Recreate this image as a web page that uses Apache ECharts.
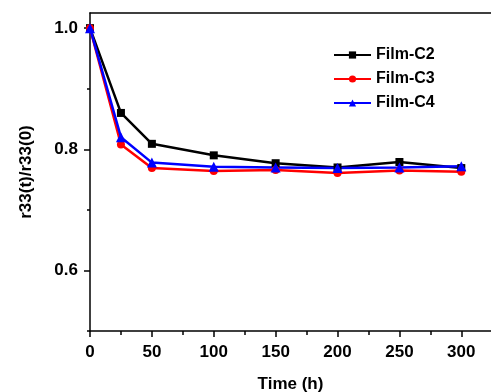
<!DOCTYPE html>
<html>
<head>
<meta charset="utf-8">
<script src="https://cdn.jsdelivr.net/npm/echarts@6/dist/echarts.min.js"></script>
<style>html,body{margin:0;padding:0;background:#fff;}#c{width:491px;height:392px;}</style>
</head>
<body>
<div id="c"></div>
<script>
const times = [0, 25, 50, 100, 150, 200, 250, 300];
const filmC2 = [1.0, 0.860, 0.809, 0.790, 0.777, 0.770, 0.779, 0.769];
const filmC3 = [1.0, 0.808, 0.769, 0.764, 0.766, 0.761, 0.765, 0.763];
const filmC4 = [1.0, 0.820, 0.778, 0.771, 0.770, 0.769, 0.770, 0.772];
const xMajorTicks = [0, 50, 100, 150, 200, 250, 300];
const xMinorTicks = [25, 75, 125, 175, 225, 275];
const yMajorTicks = [0.6, 0.8, 1.0];
const yMinorTicks = [0.5, 0.7, 0.9];
const seriesNames = ['Film-C2', 'Film-C3', 'Film-C4'];

const FONT = 'Liberation Sans, Arial, sans-serif';
const pairs = arr => times.map((t, i) => [t, arr[i]]);
const chart = echarts.init(document.getElementById('c'));
const lineAxis = { lineStyle: { color: '#000', width: 1.5 } };
const xBase = { type: 'value', min: 0, max: 324, splitLine: { show: false } };
const yBase = { type: 'value', min: 0.5, max: 1.025, splitLine: { show: false } };
chart.setOption({
  animation: false,
  grid: { left: 90, right: 0, top: 13, bottom: 61, containLabel: false, outerBoundsMode: 'none' },
  legend: {
    left: 328, top: 41, orient: 'vertical',
    itemWidth: 37, itemHeight: 9, itemGap: 6,
    data: seriesNames,
    textStyle: { fontFamily: FONT, fontWeight: 'bold', fontSize: 16, color: '#000', lineHeight: 18 }
  },
  xAxis: [
    Object.assign({}, xBase, {
      position: 'bottom',
      axisLine: lineAxis,
      axisTick: { inside: false, length: 6, customValues: xMajorTicks, lineStyle: { color: '#000', width: 1.5 } },
      axisLabel: { customValues: xMajorTicks, margin: 13, fontFamily: FONT, fontWeight: 'bold', fontSize: 17, color: '#000' },
      name: 'Time (h)', nameLocation: 'middle', nameGap: 45,
      nameTextStyle: { fontFamily: FONT, fontWeight: 'bold', fontSize: 17, color: '#000' }
    }),
    Object.assign({}, xBase, {
      position: 'bottom',
      axisLine: { show: false },
      axisTick: { inside: false, length: 4, customValues: xMinorTicks, lineStyle: { color: '#000', width: 1.5 } },
      axisLabel: { show: false }
    }),
    Object.assign({}, xBase, {
      position: 'top',
      axisLine: lineAxis,
      axisTick: { show: false },
      axisLabel: { show: false }
    })
  ],
  yAxis: [
    Object.assign({}, yBase, {
      position: 'left',
      axisLine: lineAxis,
      axisTick: { inside: false, length: 6, customValues: yMajorTicks, lineStyle: { color: '#000', width: 1.5 } },
      axisLabel: { customValues: yMajorTicks, margin: 12, fontFamily: FONT, fontWeight: 'bold', fontSize: 17, color: '#000',
        formatter: v => v.toFixed(1) },
      name: 'r33(t)/r33(0)', nameLocation: 'middle', nameGap: 55,
      nameTextStyle: { fontFamily: FONT, fontWeight: 'bold', fontSize: 17, color: '#000' }
    }),
    Object.assign({}, yBase, {
      position: 'left',
      axisLine: { show: false },
      axisTick: { inside: false, length: 3, customValues: yMinorTicks, lineStyle: { color: '#000', width: 1.5 } },
      axisLabel: { show: false }
    })
  ],
  series: [
    { name: seriesNames[0], type: 'line', data: pairs(filmC2), symbol: 'rect', symbolSize: 8,
      itemStyle: { color: '#000' }, lineStyle: { color: '#000', width: 2.5 } },
    { name: seriesNames[1], type: 'line', data: pairs(filmC3), symbol: 'circle', symbolSize: 8,
      itemStyle: { color: '#ff0000' }, lineStyle: { color: '#ff0000', width: 2.5 } },
    { name: seriesNames[2], type: 'line', data: pairs(filmC4), symbol: 'triangle', symbolSize: 10,
      itemStyle: { color: '#0000ff' }, lineStyle: { color: '#0000ff', width: 2.5 } }
  ]
});
</script>
</body>
</html>
